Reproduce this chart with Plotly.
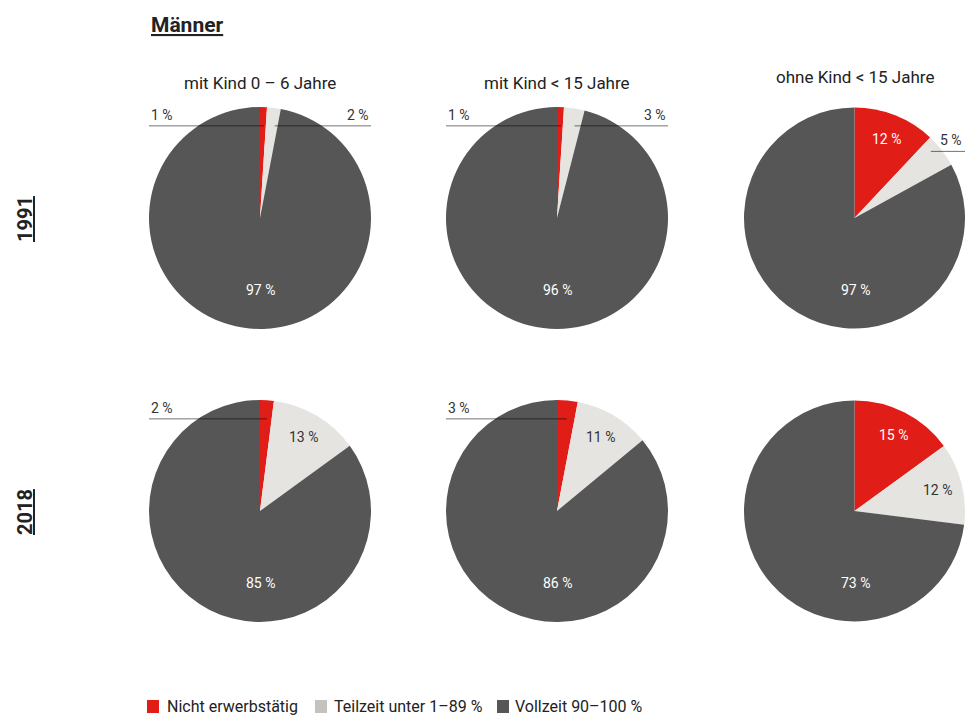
import math
import plotly.graph_objects as go

W, H = 965, 717

categories = ["Nicht erwerbstätig", "Teilzeit unter 1–89 %", "Vollzeit 90–100 %"]
columns = ["mit Kind 0 – 6 Jahre", "mit Kind < 15 Jahre", "ohne Kind < 15 Jahre"]
years = ["1991", "2018"]

# slice sizes (as drawn) per year, per column: [nicht, teilzeit, vollzeit]
values_1991 = [[1, 2, 97], [1, 3, 96], [12, 5, 83]]
values_2018 = [[2, 13, 85], [3, 11, 86], [15, 12, 73]]
# printed labels as in the original
labels_1991 = [["1 %", "2 %", "97 %"], ["1 %", "3 %", "96 %"], ["12 %", "5 %", "97 %"]]
labels_2018 = [["2 %", "13 %", "85 %"], ["3 %", "11 %", "86 %"], ["15 %", "12 %", "73 %"]]

pie_colors = ["#E01D16", "#E5E4E1", "#565656"]
legend_colors = ["#E01D16", "#C5C1BC", "#565656"]
FONT = "Roboto, sans-serif"

col_cx = [260, 557, 855]
row_cy = [218, 511]
R = 111

fig = go.Figure()
annotations = []
shapes = []

def px(x):
    return x / W

def py(y):
    return 1 - y / H

def ann(x, y, text, size, color, xanchor="center", yanchor="middle", **kw):
    annotations.append(dict(x=px(x), y=py(y), xref="paper", yref="paper", text=text,
                            showarrow=False, xanchor=xanchor, yanchor=yanchor,
                            font=dict(family=FONT, size=size, color=color), **kw))

for ri, (vals_row, labs_row) in enumerate([(values_1991, labels_1991), (values_2018, labels_2018)]):
    cy = row_cy[ri]
    for ci in range(3):
        cx = col_cx[ci]
        vals = vals_row[ci]
        labs = labs_row[ci]
        x0, x1 = max(0, cx - R), min(W, cx + R)
        fig.add_trace(go.Pie(
            labels=categories, values=vals, sort=False, direction="clockwise",
            rotation=0, marker=dict(colors=pie_colors, line=dict(width=0)),
            textinfo="none", hoverinfo="label+percent", showlegend=False,
            domain=dict(x=[px(x0), px(x1)], y=[py(cy + R), py(cy - R)]),
        ))
        total = sum(vals)
        cum = 0
        for k, v in enumerate(vals):
            a0 = cum / total * 360
            cum += v
            a1 = cum / total * 360
            mid = math.radians((a0 + a1) / 2)
            frac = v / total
            if k == 2:
                ann(cx, cy + 0.65 * R, labs[k], 14, "white")
            elif frac >= 0.08:
                tx = cx + 0.77 * R * math.sin(mid)
                ty = cy - 0.77 * R * math.cos(mid)
                col = "white" if k == 0 else "#333333"
                ann(tx, ty, labs[k], 14, col)
            else:
                if ci == 2:
                    ly = cy - 0.6 * R
                    ex = cx + (cy - ly) * math.tan(mid) - 10
                    shapes.append(dict(type="line", xref="paper", yref="paper",
                                       x0=px(ex), x1=1, y0=py(ly), y1=py(ly),
                                       line=dict(color="rgba(0,0,0,0.55)", width=1)))
                    ann(W - 1, ly - 1, labs[k], 14, "#333333", xanchor="right", yanchor="bottom")
                else:
                    ly = cy - 0.83 * R
                    ex = cx + (cy - ly) * math.tan(mid)
                    if k == 0:
                        xs, xe = cx - R, ex + 1
                        anc, ax = "left", cx - R
                    else:
                        xs, xe = ex + 3, cx + R
                        anc, ax = "right", cx + R
                    shapes.append(dict(type="line", xref="paper", yref="paper",
                                       x0=px(xs), x1=px(xe), y0=py(ly), y1=py(ly),
                                       line=dict(color="rgba(0,0,0,0.55)", width=1)))
                    ann(ax, ly - 1, labs[k], 14, "#333333", xanchor=anc, yanchor="bottom")

# column titles
title_y = [83, 83, 77]
for ci, t in enumerate(columns):
    ann(col_cx[ci], title_y[ci], t, 17, "#222222")

# row labels
for ri, yr in enumerate(years):
    ann(25, row_cy[ri] + 1, "<b><u>" + yr + "</u></b>", 20, "#222222", textangle=-90)

# main title
ann(149, 25, "<b><u>Männer</u></b>", 21, "#222222", xanchor="left")

# legend
leg_sq = [147, 315, 497]
leg_tx = [165, 332, 513]
for k, name in enumerate(categories):
    shapes.append(dict(type="rect", xref="paper", yref="paper",
                       x0=px(leg_sq[k]), x1=px(leg_sq[k] + 12), y0=py(713), y1=py(700),
                       fillcolor=legend_colors[k], line=dict(width=0)))
    ann(leg_tx[k], 706, name, 16, "#222222", xanchor="left")

fig.update_layout(
    width=W, height=H, margin=dict(l=0, r=0, t=0, b=0),
    paper_bgcolor="white", plot_bgcolor="white",
    annotations=annotations, shapes=shapes, showlegend=False,
)

fig.write_html("out.html")
